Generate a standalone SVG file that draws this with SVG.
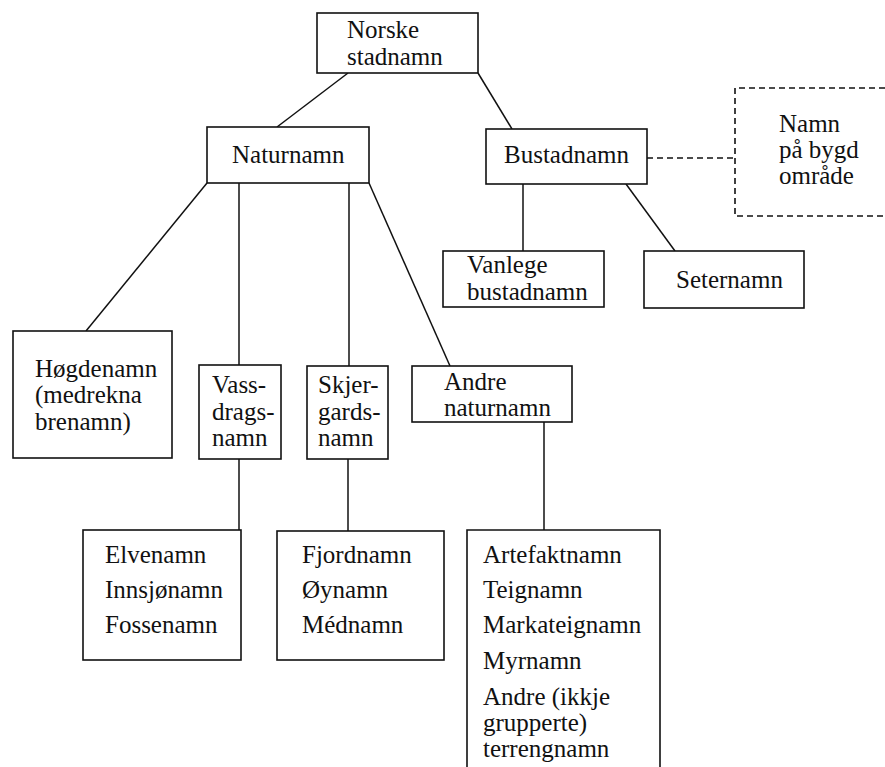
<svg xmlns="http://www.w3.org/2000/svg" width="885" height="767" viewBox="0 0 885 767">
<style>
.box{fill:#fff;stroke:#111;stroke-width:1.6}
.ln{stroke:#111;stroke-width:1.5;fill:none}
.dash{stroke:#111;stroke-width:1.6;fill:none;stroke-dasharray:6 4}
text{font-family:"Liberation Serif","Times New Roman",serif;font-size:25px;fill:#111}
</style>
<rect width="885" height="767" fill="#fff"/>
<g id="connectors">
<line class="ln" x1="348" y1="73" x2="277" y2="127"/>
<line class="ln" x1="478" y1="73" x2="512" y2="129"/>
<line class="ln" x1="207" y1="183" x2="86" y2="331"/>
<line class="ln" x1="239" y1="183" x2="239" y2="365"/>
<line class="ln" x1="349" y1="183" x2="349" y2="366"/>
<line class="ln" x1="369" y1="183" x2="450" y2="366"/>
<line class="ln" x1="239" y1="459" x2="239" y2="530"/>
<line class="ln" x1="348" y1="459" x2="348" y2="531"/>
<line class="ln" x1="544" y1="422" x2="544" y2="530"/>
<line class="ln" x1="523" y1="184" x2="523" y2="251"/>
<line class="ln" x1="626" y1="184" x2="675" y2="251"/>
<line class="dash" x1="647" y1="158" x2="735" y2="158"/>
</g>
<g id="norske">
<rect class="box" x="317" y="13" width="161" height="60"/>
<text x="347" y="38">Norske</text>
<text x="347" y="65">stadnamn</text>
</g>
<g id="naturnamn">
<rect class="box" x="207" y="127" width="162" height="56"/>
<text x="232" y="163">Naturnamn</text>
</g>
<g id="bustadnamn">
<rect class="box" x="486" y="129" width="161" height="55"/>
<text x="504" y="163">Bustadnamn</text>
</g>
<g id="bygd">
<path class="dash" d="M885 88H735V216H885"/>
<text x="779" y="132">Namn</text>
<text x="779" y="158">på bygd</text>
<text x="779" y="184">område</text>
</g>
<g id="vanlege">
<rect class="box" x="443" y="251" width="161" height="56"/>
<text x="467" y="273">Vanlege</text>
<text x="467" y="300">bustadnamn</text>
</g>
<g id="seternamn">
<rect class="box" x="644" y="251" width="160" height="57"/>
<text x="676" y="288">Seternamn</text>
</g>
<g id="hogdenamn">
<rect class="box" x="13" y="331" width="159" height="127"/>
<text x="35" y="377">Høgdenamn</text>
<text x="35" y="403">(medrekna</text>
<text x="35" y="430">brenamn)</text>
</g>
<g id="vassdrag">
<rect class="box" x="199" y="365" width="82" height="94"/>
<text x="212" y="393">Vass-</text>
<text x="212" y="420">drags-</text>
<text x="212" y="446">namn</text>
</g>
<g id="skjergard">
<rect class="box" x="307" y="366" width="81" height="93"/>
<text x="318" y="393">Skjer-</text>
<text x="318" y="420">gards-</text>
<text x="318" y="446">namn</text>
</g>
<g id="andre">
<rect class="box" x="412" y="366" width="160" height="56"/>
<text x="444" y="390">Andre</text>
<text x="444" y="416">naturnamn</text>
</g>
<g id="vassliste">
<rect class="box" x="83" y="530" width="158" height="130"/>
<text x="105" y="563">Elvenamn</text>
<text x="105" y="598">Innsjønamn</text>
<text x="105" y="633">Fossenamn</text>
</g>
<g id="skjerliste">
<rect class="box" x="277" y="531" width="167" height="129"/>
<text x="302" y="563">Fjordnamn</text>
<text x="302" y="598">Øynamn</text>
<text x="302" y="633">Médnamn</text>
</g>
<g id="andreliste">
<path class="box" d="M467 770V530H660V770"/>
<text x="483" y="563">Artefaktnamn</text>
<text x="483" y="598">Teignamn</text>
<text x="483" y="633">Markateignamn</text>
<text x="483" y="669">Myrnamn</text>
<text x="483" y="705">Andre (ikkje</text>
<text x="483" y="731">grupperte)</text>
<text x="483" y="757">terrengnamn</text>
</g>
</svg>
